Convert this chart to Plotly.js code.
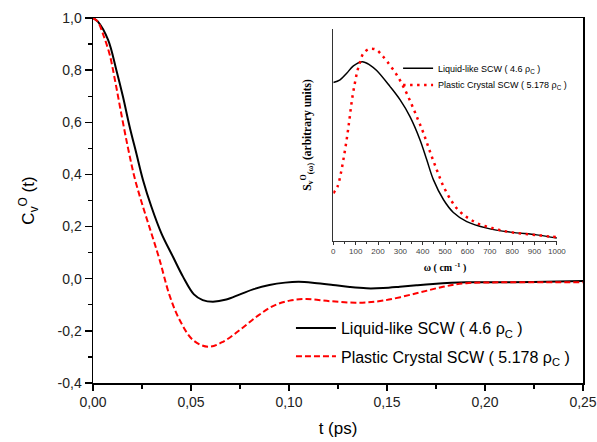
<!DOCTYPE html>
<html>
<head>
<meta charset="utf-8">
<script src="https://cdn.plot.ly/plotly-3.0.1.min.js"></script>
<style>html,body{margin:0;padding:0;background:#fff;}#chart{width:597px;height:442px;}</style>
</head>
<body>
<div id="chart"></div>
<script>
// Main chart: velocity autocorrelation function C_v^O(t)
const tLiquid = [0, 0.0025, 0.0077, 0.0119, 0.0153, 0.0187, 0.0221, 0.0255, 0.0298, 0.0349, 0.0408, 0.0459, 0.0515, 0.0560, 0.0612, 0.0680, 0.0750, 0.0820, 0.0900, 0.0980, 0.1050, 0.1130, 0.1224, 0.1310, 0.1395, 0.1480, 0.1565, 0.1650, 0.1735, 0.1905, 0.2075, 0.2245, 0.2500];
const cLiquid = [1.000, 0.986, 0.916, 0.801, 0.698, 0.583, 0.481, 0.379, 0.276, 0.174, 0.084, 0.008, -0.060, -0.082, -0.088, -0.080, -0.060, -0.040, -0.024, -0.015, -0.012, -0.016, -0.024, -0.032, -0.037, -0.036, -0.031, -0.025, -0.020, -0.014, -0.014, -0.013, -0.009];

const tPlastic = [0, 0.0025, 0.0055, 0.0085, 0.0110, 0.0145, 0.0179, 0.0213, 0.0255, 0.0298, 0.0340, 0.0391, 0.0442, 0.0510, 0.0587, 0.0663, 0.0748, 0.0834, 0.0918, 0.1003, 0.1089, 0.1207, 0.1344, 0.1480, 0.1650, 0.1786, 0.1905, 0.2075, 0.2500];
const cPlastic = [1.000, 0.985, 0.930, 0.860, 0.770, 0.630, 0.500, 0.385, 0.276, 0.174, 0.072, -0.065, -0.158, -0.235, -0.261, -0.242, -0.197, -0.146, -0.105, -0.084, -0.078, -0.086, -0.092, -0.084, -0.056, -0.031, -0.017, -0.014, -0.014];

// Inset: spectral density S_v^O(omega), arbitrary units
const wLiquid = [0, 30, 60, 90, 130, 164, 194, 254, 299, 343, 388, 418, 448, 493, 537, 597, 687, 791, 910, 1000];
const sLiquid = [0.748, 0.761, 0.792, 0.827, 0.847, 0.831, 0.805, 0.729, 0.666, 0.587, 0.477, 0.383, 0.288, 0.194, 0.134, 0.091, 0.060, 0.041, 0.028, 0.013];

const wPlastic = [0, 19, 34, 45, 55, 64, 72, 79, 87, 97, 107, 119, 134, 161, 191, 216, 242, 284, 321, 351, 378, 403, 433, 463, 493, 530, 552, 582, 612, 649, 694, 739, 791, 851, 910, 970, 1000];
const sPlastic = [0.225, 0.257, 0.320, 0.383, 0.446, 0.509, 0.572, 0.631, 0.690, 0.748, 0.800, 0.843, 0.885, 0.907, 0.904, 0.879, 0.846, 0.784, 0.713, 0.643, 0.575, 0.510, 0.420, 0.335, 0.257, 0.186, 0.154, 0.123, 0.102, 0.080, 0.065, 0.052, 0.041, 0.033, 0.027, 0.020, 0.017];

// Tick labels
const xTickVals = [0, 0.05, 0.10, 0.15, 0.20, 0.25];
const xTickText = ['0,00', '0,05', '0,10', '0,15', '0,20', '0,25'];
const yTickVals = [-0.4, -0.2, 0.0, 0.2, 0.4, 0.6, 0.8, 1.0];
const yTickText = ['-0,4', '-0,2', '0,0', '0,2', '0,4', '0,6', '0,8', '1,0'];
const wTickVals = [0, 100, 200, 300, 400, 500, 600, 700, 800, 900, 1000];

const seriesNames = ['Liquid-like SCW ( 4.6 ρ<sub>C</sub> )', 'Plastic Crystal SCW ( 5.178 ρ<sub>C</sub> )'];

const SANS = 'Liberation Sans, Arial, sans-serif';
const SERIF = 'Liberation Serif, Times New Roman, serif';

const traces = [
  {x: tLiquid, y: cLiquid, name: seriesNames[0], mode: 'lines', xaxis: 'x', yaxis: 'y',
   line: {color: '#000000', width: 2, shape: 'spline', smoothing: 1}, legend: 'legend'},
  {x: tPlastic, y: cPlastic, name: seriesNames[1], mode: 'lines', xaxis: 'x', yaxis: 'y',
   line: {color: '#ff0000', width: 2, dash: '6px,3px', shape: 'spline', smoothing: 1}, legend: 'legend2'},
  {x: wLiquid, y: sLiquid, name: seriesNames[0], mode: 'lines', xaxis: 'x2', yaxis: 'y2',
   line: {color: '#000000', width: 1.5, shape: 'spline', smoothing: 1}, legend: 'legend3'},
  {x: wPlastic, y: sPlastic, name: seriesNames[1], mode: 'lines', xaxis: 'x2', yaxis: 'y2',
   line: {color: '#ff0000', width: 2.5, dash: '2.5px,4.5px', shape: 'spline', smoothing: 1}, legend: 'legend4'}
];

const legBase = (x, y, size) => ({
  x: x, y: y, xanchor: 'left', yanchor: 'middle', bgcolor: 'rgba(0,0,0,0)', borderwidth: 0,
  font: {family: SANS, size: size, color: '#000'}
});

const layout = {
  width: 597, height: 442,
  margin: {l: 93, r: 14, t: 18, b: 59, pad: 0, autoexpand: false},
  paper_bgcolor: '#fff', plot_bgcolor: '#fff',
  showlegend: true,
  font: {family: SANS, color: '#000'},
  xaxis: {
    domain: [0, 1], range: [0, 0.25], tickmode: 'array', tickvals: xTickVals, ticktext: xTickText,
    automargin: false,
    ticks: 'outside', ticklen: 6, tickwidth: 1.3, tickcolor: '#000',
    minor: {tickmode: 'linear', tick0: 0, dtick: 0.025, ticks: 'outside', ticklen: 4, tickwidth: 1.3, tickcolor: '#000'},
    showline: true, linewidth: 1.5, linecolor: '#000', mirror: true,
    showgrid: false, zeroline: false,
    tickfont: {family: SANS, size: 14, color: '#222'},
    title: {text: 't (ps)', font: {family: SANS, size: 17, color: '#000'}, standoff: 13}
  },
  yaxis: {
    domain: [0, 1], range: [-0.4, 1.0], tickmode: 'array', tickvals: yTickVals, ticktext: yTickText,
    automargin: false,
    ticks: 'outside', ticklen: 7, tickwidth: 1.3, tickcolor: '#000',
    minor: {tickmode: 'linear', tick0: 0, dtick: 0.1, ticks: 'outside', ticklen: 4, tickwidth: 1.3, tickcolor: '#000'},
    showline: true, linewidth: 1.5, linecolor: '#000', mirror: true,
    showgrid: false, zeroline: false,
    tickfont: {family: SANS, size: 14, color: '#222'},
    title: {text: 'C<sub>v</sub><sup>O</sup> (t)', font: {family: SANS, size: 17, color: '#000'}, standoff: 18}
  },
  xaxis2: {
    domain: [0.4904, 0.9467], anchor: 'y2', range: [0, 1000], tickmode: 'array', tickvals: wTickVals,
    automargin: false,
    ticks: 'outside', ticklen: 3, tickwidth: 1, tickcolor: '#333',
    minor: {tickmode: 'linear', tick0: 0, dtick: 50, ticks: 'outside', ticklen: 2, tickwidth: 1, tickcolor: '#333'},
    showline: true, linewidth: 1, linecolor: '#333', showgrid: false, zeroline: false,
    tickfont: {family: SANS, size: 8, color: '#444'},
    title: {text: '<b>ω ( cm <sup>-1</sup> )</b>', font: {family: SERIF, size: 10, color: '#000'}, standoff: 8}
  },
  yaxis2: {
    domain: [0.3896, 0.9691], anchor: 'x2', range: [0, 1],
    automargin: false,
    showticklabels: false, ticks: '', showline: true, linewidth: 1, linecolor: '#333',
    showgrid: false, zeroline: false,
    title: {text: '<b>S<sub>v</sub><sup>O</sup><sub>(ω)</sub> (arbitrary units)</b>', font: {family: SERIF, size: 11.5, color: '#000'}, standoff: 18}
  },
  legend: Object.assign(legBase(0.404, 0.1505, 16), {itemwidth: 40}),
  legend2: Object.assign(legBase(0.404, 0.0728, 16), {itemwidth: 40}),
  legend3: legBase(0.6226, 0.8623, 9),
  legend4: legBase(0.6226, 0.8166, 9)
};

Plotly.newPlot('chart', traces, layout, {staticPlot: true, displayModeBar: false});
</script>
</body>
</html>
